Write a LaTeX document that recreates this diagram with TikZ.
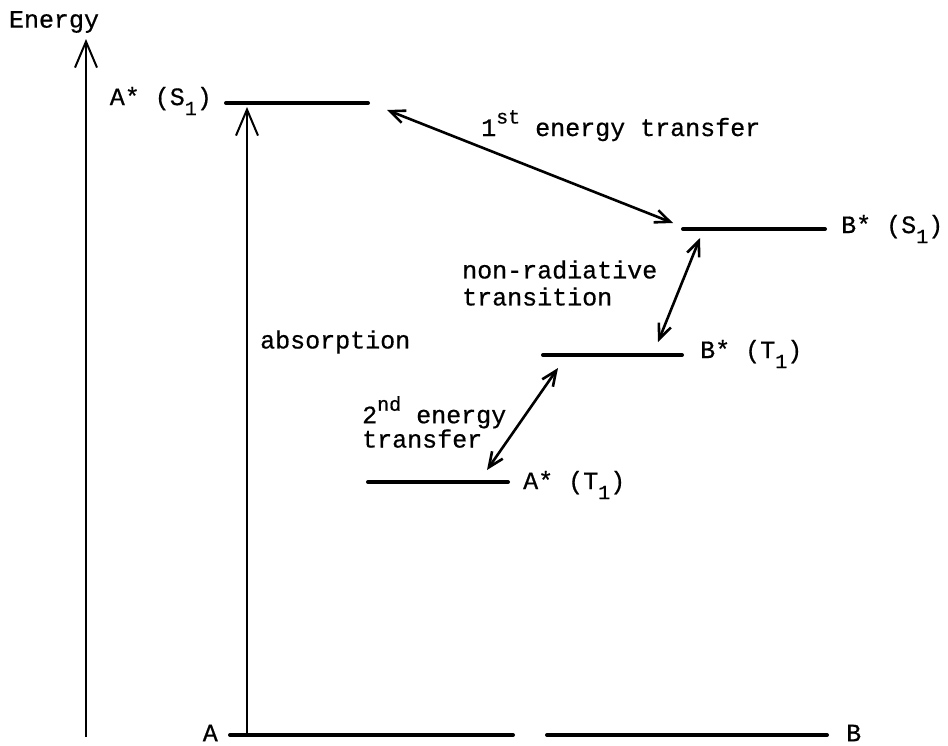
\documentclass[tikz,border=0pt]{standalone}
\usepackage{fontspec}
\setmainfont[FakeBold=0.6]{Liberation Mono}
\usetikzlibrary{arrows.meta}
\newcommand\lsub[1]{\raisebox{-0.4em}{\fontsize{20}{20}\selectfont #1}}
\newcommand\lsup[1]{\raisebox{0.5em}{\fontsize{20}{20}\selectfont #1}}
\tikzset{
  level/.style={line width=4pt, line cap=round},
  axisarrow/.style={line width=1.6pt, -{Straight Barb[length=26pt,width=22pt,line width=2pt]}},
  trans/.style={line width=2.6pt, {Straight Barb[length=15pt,width=13pt,line width=2.6pt]}-{Straight Barb[length=15pt,width=13pt,line width=2.6pt]}},
  lbl/.style={inner sep=0pt, font=\fontsize{25}{27}\selectfont},
}
\begin{document}
\begin{tikzpicture}[x=1pt,y=-1pt]
\useasboundingbox (0,0) rectangle (948,745);
% energy axis
\node[lbl] (energy) at (54,22) {Energy};
\coordinate (axB) at (86,737);
\coordinate (axT) at (86,39);
\draw[axisarrow] (axB) -- (axT);
% levels
\coordinate (aS1l) at (226,103); \coordinate (aS1r) at (368,103);
\coordinate (bS1l) at (683,229); \coordinate (bS1r) at (825,229);
\coordinate (bT1l) at (543,355); \coordinate (bT1r) at (682,355);
\coordinate (aT1l) at (368,482); \coordinate (aT1r) at (508,482);
\coordinate (aGl) at (230,735); \coordinate (aGr) at (513,735);
\coordinate (bGl) at (547,735); \coordinate (bGr) at (827,735);
\draw[level] (aS1l) -- (aS1r);
\draw[level] (bS1l) -- (bS1r);
\draw[level] (bT1l) -- (bT1r);
\draw[level] (aT1l) -- (aT1r);
\draw[level] (aGl) -- (aGr);
\draw[level] (bGl) -- (bGr);
% level labels
\node[lbl, anchor=east] (laS1) at (212,101) {A* (S\lsub{1})};
\node[lbl, anchor=west] (lbS1) at (841,229) {B* (S\lsub{1})};
\node[lbl, anchor=west] (lbT1) at (700,354) {B* (T\lsub{1})};
\node[lbl, anchor=west] (laT1) at (523,485) {A* (T\lsub{1})};
\node[lbl, anchor=east] (laG) at (218,733) {A};
\node[lbl, anchor=west] (lbG) at (846,733) {B};
% absorption
\coordinate (absB) at (247,733);
\coordinate (absT) at (247,107);
\draw[axisarrow] (absB) -- (absT);
\node[lbl, anchor=west] (labs) at (260,342) {absorption};
% transfers
\coordinate (t1a) at (387,110); \coordinate (t1b) at (673,223);
\draw[trans] (t1a) -- (t1b);
\node[lbl, anchor=base west] (lt1) at (481,136) {1\lsup{st} energy transfer};
\coordinate (nra) at (700,238); \coordinate (nrb) at (658,342);
\draw[trans] (nra) -- (nrb);
\node[lbl, anchor=west, align=left] (lnr) at (462,283) {non-radiative\\transition};
\coordinate (t2a) at (558,368); \coordinate (t2b) at (487,470);
\draw[trans] (t2a) -- (t2b);
\node[lbl, anchor=west, align=left, font=\fontsize{25}{23}\selectfont] (lt2) at (362,422) {2\lsup{nd} energy\\transfer};
\end{tikzpicture}
\end{document}
